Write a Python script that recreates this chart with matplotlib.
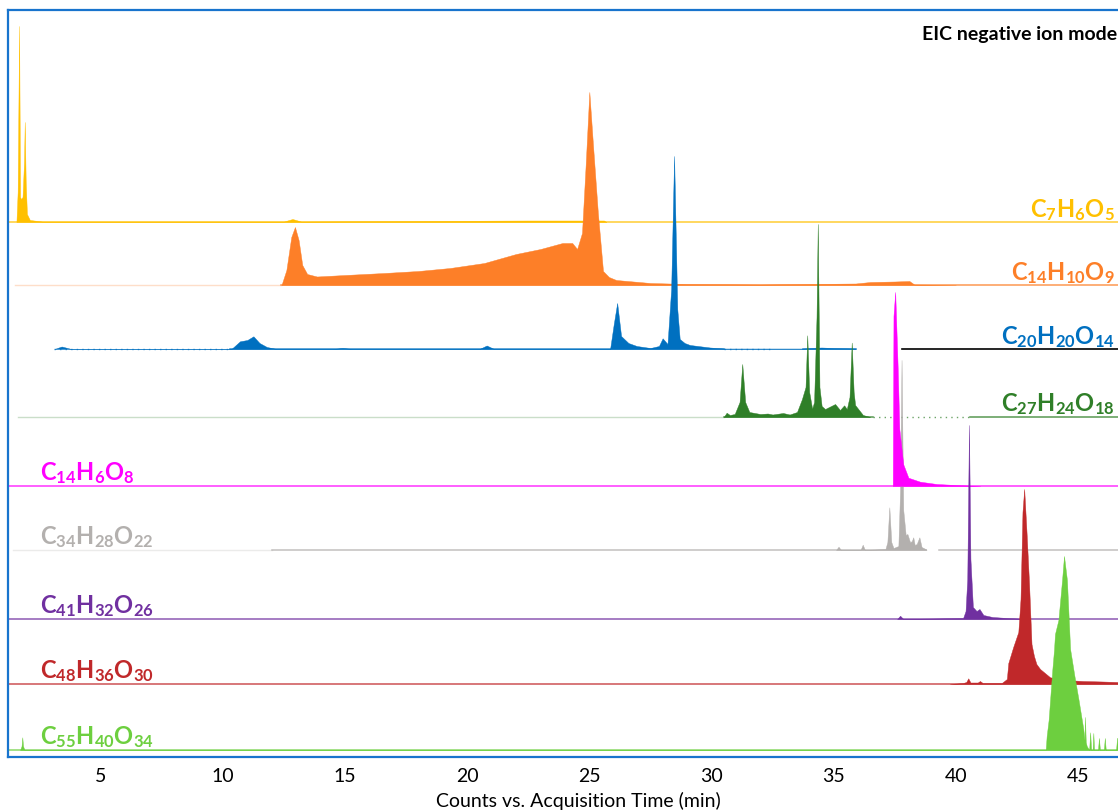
"""
EIC (negative ion mode) - stacked extracted ion chromatograms
X: acquisition time (min); each trace drawn on its own baseline
"""

import matplotlib
matplotlib.use("Agg")
import matplotlib.pyplot as plt

plt.rcParams["font.family"] = ["Lato", "DejaVu Sans"]
plt.rcParams["mathtext.fontset"] = "custom"
plt.rcParams["mathtext.rm"] = "Lato:bold"
plt.rcParams["mathtext.it"] = "Lato:bold"
plt.rcParams["mathtext.bf"] = "Lato:bold"

# =============================
# Data
# =============================
formulas = ["C_{7}H_{6}O_{5}", "C_{14}H_{10}O_{9}", "C_{20}H_{20}O_{14}", "C_{27}H_{24}O_{18}",
            "C_{14}H_{6}O_{8}", "C_{34}H_{28}O_{22}", "C_{41}H_{32}O_{26}", "C_{48}H_{36}O_{30}",
            "C_{55}H_{40}O_{34}"]

# signal above each trace's baseline (a.u., tallest peak ~195)
t_c7 = [1.55, 1.60, 1.66, 1.70, 1.74, 1.80, 1.86, 1.89, 1.93, 1.98, 2.10, 2.60, 12.50, 12.85, 13.20, 22.5, 25.6, 25.7]
h_c7 = [0, 30, 196, 25, 23, 25, 60, 100, 40, 8, 2, 0.5, 0.5, 3, 0.5, 1.5, 1.5, 0]

t_c14a = [12.40, 12.60, 12.80, 12.95, 13.10, 13.25, 13.45, 13.85, 15.0, 16.6, 18.0, 19.3, 20.7, 22.0, 23.0,
          23.9, 24.3, 24.5, 24.7, 24.85, 25.0, 25.15, 25.35, 25.56, 25.8, 26.1, 27.5, 29.0, 32.0, 35.9,
          36.5, 37.5, 38.1, 38.3, 40.0]
h_c14a = [0, 15, 48, 58, 45, 20, 11, 8.5, 10, 12, 14, 17, 22, 31, 36,
          42, 42, 36, 52, 120, 193, 140, 72, 14, 8, 5, 2, 1, 0.5, 1.5,
          3, 3.5, 4, 0.5, 0]

t_c20 = [3.10, 3.40, 3.80, 10.35, 10.70, 11.00, 11.25, 11.50, 11.80, 12.20, 14.5, 14.9, 15.3, 20.5, 20.8,
         21.1, 25.85, 26.00, 26.14, 26.30, 26.60, 26.94, 27.50, 27.85, 28.00, 28.20, 28.35, 28.47, 28.60,
         28.70, 28.90, 29.12, 29.94, 30.5, 33.75, 34.5, 35.0, 35.9]
h_c20 = [0, 2.5, 0, 0, 7.7, 9, 12.7, 6, 2, 0, 0, 1, 0, 0, 3.5,
         0, 0, 25, 46, 13, 6, 3, 1, 3, 10.7, 5, 60, 193, 40,
         10, 6, 4, 1.5, 0.5, 0.5, 1.5, 1, 0.5]

t_c27 = [30.50, 30.62, 30.75, 30.95, 31.15, 31.26, 31.38, 31.55, 32.0, 32.3, 32.5, 32.93, 33.2, 33.5, 33.7,
         33.85, 33.92, 34.0, 34.12, 34.20, 34.30, 34.35, 34.42, 34.51, 34.65, 35.06, 35.26, 35.43, 35.54,
         35.65, 35.74, 35.82, 35.88, 36.2, 36.5]
h_c27 = [0, 4.3, 2, 3, 15, 53, 15, 5, 3, 3.5, 2.5, 4, 2.5, 5, 17.7,
         30, 81.7, 25, 8.3, 15, 100, 193, 30, 11, 8, 13, 7, 11.7, 8,
         20, 74.4, 25, 12, 2, 0]

t_c14b = [37.42, 37.45, 37.52, 37.62, 37.69, 37.85, 38.06, 38.54, 39.22, 40.0, 41.0]
h_c14b = [0, 170, 194, 120, 57, 21.7, 8.3, 4.3, 2, 1, 0]

t_c34 = [35.1, 35.2, 35.3, 36.1, 36.19, 36.28, 37.12, 37.20, 37.28, 37.36, 37.45, 37.65, 37.72, 37.78, 37.85,
         37.95, 38.02, 38.13, 38.20, 38.26, 38.32, 38.40, 38.51, 38.60, 38.8]
h_c34 = [0, 3.3, 0, 0, 5.3, 0, 1, 8, 42.7, 8, 2, 4, 60, 190, 40,
         15, 16, 7.7, 9, 12.7, 5, 6, 12.7, 3, 0.5]

t_c41 = [37.6, 37.72, 37.85, 40.30, 40.40, 40.47, 40.54, 40.60, 40.70, 40.85, 40.97, 41.13, 41.5, 42.1, 43.0]
h_c41 = [0, 3.3, 0, 1, 8, 40, 194, 60, 12, 8, 10, 4, 2, 1, 0]

t_c48 = [39.76, 40.3, 40.43, 40.51, 40.6, 40.9, 40.99, 41.1, 41.88, 42.09, 42.15, 42.35, 42.56, 42.65, 42.73,
         42.80, 42.90, 43.00, 43.10, 43.20, 43.30, 43.45, 43.86, 44.5, 45.2, 46.0, 46.64]
h_c48 = [0, 1, 2, 5.7, 1.5, 1.5, 3, 1, 1, 5, 21, 37, 52, 85, 172,
         195, 150, 100, 40, 28, 20, 15, 6.7, 4, 3, 2.5, 2]

t_c55 = [1.70, 1.76, 1.79, 1.82, 1.88, 43.68, 43.72, 43.80, 43.86, 43.95, 44.02, 44.06, 44.20, 44.35, 44.43,
         44.55, 44.68, 44.85, 45.02, 45.22, 45.27, 45.29, 45.32, 45.36, 45.46, 45.50, 45.54, 45.60, 45.63,
         45.66, 45.82, 45.86, 45.90, 46.06, 46.10, 46.14, 46.56, 46.60, 46.64]
h_c55 = [0, 4, 12.7, 4, 0, 0, 14, 30, 50, 80, 100, 116, 130, 170, 194,
         170, 101, 75, 51, 21, 10, 33, 8, 4, 0, 17.7, 0, 0, 17,
         0, 0, 12, 0, 0, 12, 0, 0, 12, 12]

times = [t_c7, t_c14a, t_c20, t_c27, t_c14b, t_c34, t_c41, t_c48, t_c55]
heights = [h_c7, h_c14a, h_c20, h_c27, h_c14b, h_c34, h_c41, h_c48, h_c55]

# recorded baseline stretches (start, end, kind)
T0, T1 = 1.205, 46.64
baselines = [
    [(T0, T1, "solid")],
    [(1.5, 12.4, "faint"), (12.4, T1, "solid")],
    [(3.1, 10.3, "dotted"), (10.3, 30.5, "solid"), (30.5, 32.4, "dotted"), (33.75, 35.9, "solid"),
     (37.8, T1, "black")],
    [(1.6, 30.5, "faint"), (30.5, 36.6, "solid"), (36.6, 40.6, "dotted"), (40.6, T1, "solid")],
    [(T0, T1, "solid")],
    [(1.4, 12.0, "faint"), (12.0, 38.8, "solid"), (39.3, T1, "solid")],
    [(T0, T1, "solid")],
    [(T0, T1, "solid")],
    [(T0, T1, "solid")],
]

# =============================
# Style / layout
# =============================
colors = ["#FFC000", "#FD7F28", "#0070C0", "#2F7F28", "#FF00FF", "#B3B0AE", "#7030A0", "#C0282A", "#6DCF3F"]
offsets = [535, 472, 408, 340, 271, 207, 138, 73, 7]
layers = [2, 3, 4, 5, 7, 6, 8, 9, 10]
label_side = ["right"] * 4 + ["left"] * 5

W, H = 1118, 812
fig = plt.figure(figsize=(W / 100, H / 100), dpi=100)
ax = fig.add_axes([8 / W, 54 / H, 1110 / W, 747 / H])
ax.set_xlim(T0, T1)
ax.set_ylim(0, 747)

for t, h, c, off, segs, z in zip(times, heights, colors, offsets, baselines, layers):
    for a, b, kind in segs:
        if kind == "faint":
            ax.plot([a, b], [off, off], color=c, lw=1.0, alpha=0.25, zorder=1)
        elif kind == "dotted":
            ax.plot([a, b], [off, off], color=c, lw=1.0, ls=(0, (1, 3)), alpha=0.7, zorder=1)
        elif kind == "black":
            ax.plot([a, b], [off, off], color="black", lw=1.2, zorder=1)
        else:
            ax.plot([a, b], [off, off], color=c, lw=1.1, alpha=0.8, zorder=1)
    top = [off + v for v in h]
    ax.fill_between(t, off, top, color=c, lw=0.3, edgecolor=c, zorder=z)

for f, c, off, side in zip(formulas, colors, offsets, label_side):
    s = r"$\mathrm{" + f + "}$"
    if side == "right":
        ax.text(46.52, off + 0.5, s, color=c, fontsize=17, ha="right", va="bottom", zorder=12)
    else:
        ax.text(2.52, off + 0.5, s, color=c, fontsize=17, ha="left", va="bottom", zorder=12)

ax.text(46.6, 718, "EIC negative ion mode", fontsize=14, fontweight="bold", ha="right",
        va="baseline", color="black")

ax.set_yticks([])
ax.set_xticks([5, 10, 15, 20, 25, 30, 35, 40, 45])
ax.tick_params(axis="x", length=0, pad=7, labelsize=14)
for side in ["left", "top", "bottom"]:
    ax.spines[side].set_color("#1874CD")
    ax.spines[side].set_linewidth(1.6)
ax.spines["right"].set_visible(False)

fig.text(578 / W, 1 - 801 / H, "Counts vs. Acquisition Time (min)", fontsize=14,
         ha="center", va="center")

plt.savefig("out.png", dpi=100)
